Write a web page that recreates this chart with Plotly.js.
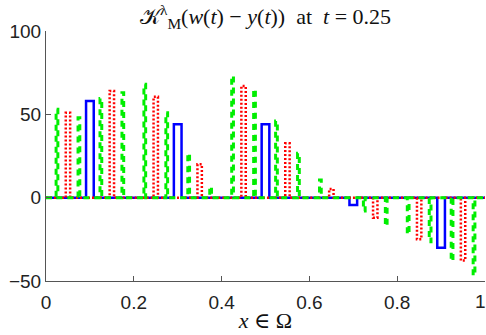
<!DOCTYPE html>
<html>
<head>
<meta charset="utf-8">
<script src="https://cdn.plot.ly/plotly-3.0.1.min.js"></script>
<style>
  html, body { margin: 0; padding: 0; background: #fff; }
  #plot { width: 486px; height: 335px; }
</style>
</head>
<body>
<div id="plot"></div>
<script>
// coarse level (blue, solid)
var blueX = [0.1, 0.3, 0.5, 0.7, 0.9];
var blueY = [58, 44, 44, -4.4, -30];

// middle level (red, dotted)
var redX = [0.05, 0.15, 0.25, 0.35, 0.45, 0.55, 0.65, 0.75, 0.85, 0.95];
var redY = [51, 64, 60.5, 20, 67, 32.6, 5.2, -12, -25, -37.7];

// fine level (green, dashed)
var greenX = [0.025, 0.075, 0.125, 0.175, 0.225, 0.275, 0.325, 0.375, 0.425, 0.475,
              0.525, 0.575, 0.625, 0.675, 0.725, 0.775, 0.825, 0.875, 0.925, 0.975];
var greenY = [53, 48, 59.5, 63, 68, 51, 26.6, 6.6, 73, 65,
              46, 26.6, 10.6, 0, -8, -17, -22, -26.5, -38, -46.7];

var xTicks = [0, 0.2, 0.4, 0.6, 0.8, 1];
// last label sits at the very edge, drawn right-aligned below
var xTickText = ["0", "0.2", "0.4", "0.6", "0.8", ""];
var yTicks = [-50, 0, 50, 100];

// piecewise constant curve: zero between bars, one box per value
function barPath(xs, ys, w) {
  var px = [0], py = [0];
  xs.forEach(function(x, i) {
    px.push(x - w / 2, x - w / 2, x + w / 2, x + w / 2);
    py.push(0, ys[i], ys[i], 0);
  });
  px.push(1);
  py.push(0);
  return {x: px, y: py};
}

var b = barPath(blueX, blueY, 0.0175);
var r = barPath(redX, redY, 0.01);
var g = barPath(greenX, greenY, 0.004);

var plotInfo = [
  {type: "scatter", mode: "lines", x: b.x, y: b.y,
   line: {color: "#0000ff", width: 2.5}},
  {type: "scatter", mode: "lines", x: r.x, y: r.y,
   line: {color: "#ff0000", width: 2.5, dash: "2px,2px"}},
  {type: "scatter", mode: "lines", x: g.x, y: g.y,
   line: {color: "#00ee00", width: 3, dash: "6px,5px"}}
];

var tickFont = {family: "Liberation Sans, Arial, sans-serif", size: 19, color: "#222"};

var axisStyle = {
  showgrid: false,
  zeroline: false,
  showline: true,
  linecolor: "#555",
  linewidth: 1,
  ticks: "inside",
  ticklen: 5,
  tickcolor: "#555",
  tickfont: tickFont
};

var serif = "Liberation Serif, DejaVu Serif, serif";

var layout = {
  width: 486,
  height: 335,
  margin: {l: 46, r: 1, t: 31, b: 54},
  paper_bgcolor: "#fff",
  plot_bgcolor: "#fff",
  showlegend: false,
  title: {
    text: "𝒦<sup>λ</sup><sub>M</sub>(<i>w</i>(<i>t</i>) − <i>y</i>(<i>t</i>))  at  <i>t</i> = 0.25",
    font: {family: serif, size: 22, color: "#111"},
    x: 0.5, xref: "paper", xanchor: "center",
    y: 0.95, yref: "container", yanchor: "middle"
  },
  xaxis: Object.assign({}, axisStyle, {
    range: [0, 1],
    tickvals: xTicks,
    ticktext: xTickText,
    ticklabelstandoff: 4,
    title: {text: "<i>x</i> ∈ Ω", standoff: 0,
            font: {family: serif, size: 22, color: "#111"}}
  }),
  yaxis: Object.assign({}, axisStyle, {
    range: [-50, 100],
    tickvals: yTicks
  }),
  annotations: [{
    text: String(xTicks[xTicks.length - 1]),
    x: xTicks[xTicks.length - 1], xref: "x", xanchor: "right",
    xshift: 3,
    y: 0, yref: "paper", yanchor: "top", yshift: -8,
    showarrow: false, font: tickFont
  }]
};

Plotly.newPlot("plot", plotInfo, layout, {staticPlot: true});
</script>
</body>
</html>
